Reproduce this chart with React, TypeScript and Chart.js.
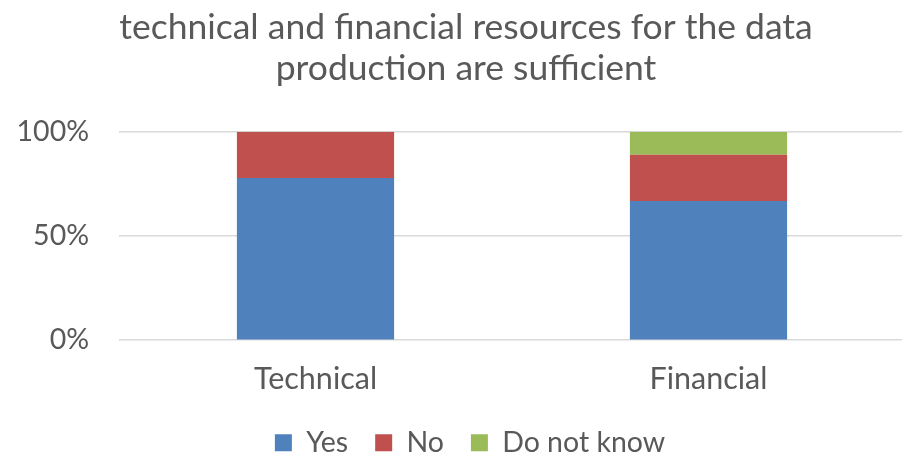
import React, { useEffect, useRef } from "react";
import { Chart, registerables } from "chart.js";

Chart.register(...registerables);

const titleLines = ["technical and financial resources for the data", "production are sufficient"];
const categories = ["Technical", "Financial"];
const yesValues = [77.8, 66.7];
const noValues = [22.2, 22.2];
const dontKnowValues = [0, 11.1];
const yTicks = [0, 50, 100];

const TEXT = "#595959";
const FONT = "Lato, 'Open Sans', sans-serif";

// Re-centre title and legend over the original (wider) chart frame.
const recenter = {
  id: "recenter",
  afterLayout(chart: any) {
    if (chart.titleBlock) chart.titleBlock.left = 27;
    if (chart.legend) chart.legend.left = 35;
  },
};

export default function App() {
  const ref = useRef<HTMLCanvasElement | null>(null);

  useEffect(() => {
    if (!ref.current) return;
    const chart = new Chart(ref.current, {
      type: "bar",
      data: {
        labels: categories,
        datasets: [
          { label: "Yes", data: yesValues, backgroundColor: "#4F81BD" },
          { label: "No", data: noValues, backgroundColor: "#C0504D" },
          { label: "Do not know", data: dontKnowValues, backgroundColor: "#9BBB59" },
        ],
      },
      options: {
        responsive: false,
        animation: false,
        maintainAspectRatio: false,
        layout: { padding: { left: 0, right: 27, top: 0, bottom: 0 } },
        datasets: { bar: { barPercentage: 1, categoryPercentage: 0.4 } },
        plugins: {
          tooltip: { enabled: false },
          title: {
            display: true,
            text: titleLines,
            color: TEXT,
            font: { family: FONT, size: 35.5, weight: "normal", lineHeight: 1.14 },
            padding: { top: 7.8, bottom: 42.9 },
          },
          legend: {
            display: true,
            position: "bottom",
            labels: {
              color: TEXT,
              font: { family: FONT, size: 28.5 },
              boxWidth: 17,
              boxHeight: 17,
              padding: 27,
            },
          },
        },
        scales: {
          x: {
            stacked: true,
            grid: { display: false, drawTicks: false },
            border: { display: false },
            ticks: { color: TEXT, font: { family: FONT, size: 30.5 }, padding: 21, maxRotation: 0 },
            afterFit: (s: any) => {
              s.height = 61.3;
            },
          },
          y: {
            stacked: true,
            min: 0,
            max: 100,
            afterBuildTicks: (s: any) => {
              s.ticks = yTicks.map((v) => ({ value: v }));
            },
            grid: { color: "#d9d9d9", lineWidth: 1.5, drawTicks: false },
            border: { display: false },
            ticks: {
              color: TEXT,
              font: { family: FONT, size: 28.5 },
              padding: 30,
              callback: (v: any) => v + "%",
            },
            afterFit: (s: any) => {
              s.width = 119;
            },
          },
        },
      },
      plugins: [recenter],
    });
    return () => chart.destroy();
  }, []);

  return (
    <div
      style={{
        position: "fixed",
        left: 0,
        top: 0,
        width: 902,
        height: 454,
        overflow: "hidden",
        background: "#ffffff",
      }}
    >
      <canvas ref={ref} width={932} height={467} style={{ display: "block", width: 932, height: 467 }} />
    </div>
  );
}
